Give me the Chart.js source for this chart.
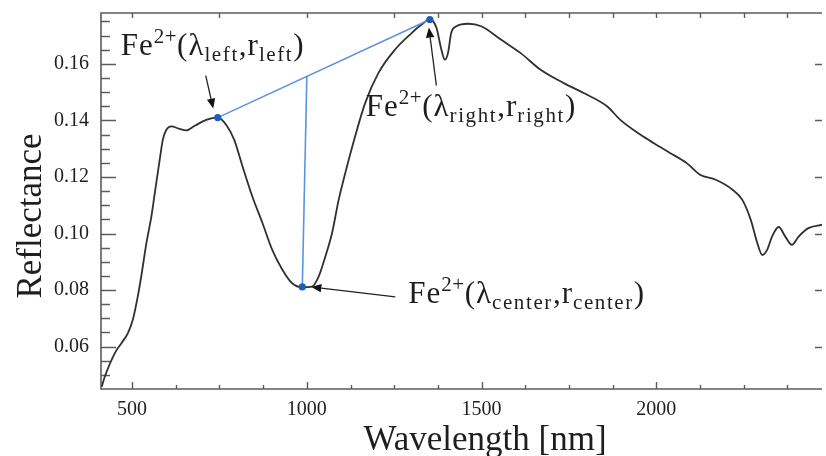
<!DOCTYPE html>
<html><head><meta charset="utf-8">
<script src="https://cdn.jsdelivr.net/npm/chart.js@4.4.1/dist/chart.umd.min.js"></script>
<style>html,body{margin:0;padding:0;background:#fff}#wrap{width:826px;height:456px;position:relative}</style>
</head><body><div id="wrap"><canvas id="c" width="826" height="456"></canvas></div>
<script>
// Spectrum
const wavelengths = [413,422,451,470,488,502,516,526,541,555,565,579,588,598,612,636,655,679,712,745,769,792,816,844,873,901,930,958,987,1015,1034,1053,1072,1091,1110,1138,1167,1205,1252,1300,1328,1352,1371,1385,1395,1404,1413,1428,1461,1499,1555,1611,1669,1735,1792,1859,1897,1954,1992,2039,2087,2125,2170,2218,2246,2270,2289,2303,2317,2331,2350,2369,2388,2407,2435,2474];
const reflectance = [0.0458,0.0494,0.0578,0.0613,0.0648,0.0695,0.0776,0.0847,0.0967,0.1059,0.1144,0.1261,0.1332,0.1367,0.1379,0.1370,0.1365,0.1381,0.1402,0.1410,0.1385,0.1332,0.1237,0.1131,0.1037,0.0942,0.0872,0.0824,0.0810,0.0812,0.0848,0.0919,0.1001,0.1119,0.1214,0.1343,0.1462,0.1568,0.1650,0.1709,0.1739,0.1757,0.1727,0.1650,0.1615,0.1639,0.1709,0.1733,0.1742,0.1733,0.1686,0.1639,0.1579,0.1532,0.1497,0.1450,0.1402,0.1350,0.1320,0.1285,0.1249,0.1208,0.1190,0.1155,0.1119,0.1049,0.0966,0.0924,0.0942,0.0989,0.1023,0.0989,0.0960,0.0989,0.1019,0.1031];

// Fe2+ band points: left shoulder, right shoulder, center
const featureNames = ['left','right','center'];
const featureWavelengths = [745, 1352, 987];
const featureReflectance = [0.1410, 0.1757, 0.0811];

// continuum (hull) line and band-depth line
const hullWavelengths = [745, 1352];
const hullReflectance = [0.1410, 0.1757];
const depthWavelengths = [987, 1000];
const depthReflectance = [0.0811, 0.1556];

// axis ticks
const xTickLabels = [500, 1000, 1500, 2000];
const yTickLabels = [0.06, 0.08, 0.10, 0.12, 0.14, 0.16];
const xTitle = 'Wavelength [nm]';
const yTitle = 'Reflectance';

const pts = (xs, ys) => xs.map((x, i) => ({x: x, y: ys[i]}));

const SERIF = '"Liberation Serif", "Times New Roman", serif';
const AXIS = '#5c5c5c';
const TEXT = '#1e1e1e';

function drawArrow(ctx, x1, y1, x2, y2) {
  const ang = Math.atan2(y2 - y1, x2 - x1);
  const hl = 10, hw = 4.2;
  ctx.save();
  ctx.strokeStyle = '#222'; ctx.fillStyle = '#111'; ctx.lineWidth = 1.3;
  ctx.beginPath(); ctx.moveTo(x1, y1);
  ctx.lineTo(x2 - hl * Math.cos(ang), y2 - hl * Math.sin(ang)); ctx.stroke();
  ctx.beginPath();
  ctx.moveTo(x2, y2);
  ctx.lineTo(x2 - hl * Math.cos(ang) - hw * Math.sin(ang), y2 - hl * Math.sin(ang) + hw * Math.cos(ang));
  ctx.lineTo(x2 - hl * Math.cos(ang) + hw * Math.sin(ang), y2 - hl * Math.sin(ang) - hw * Math.cos(ang));
  ctx.closePath(); ctx.fill();
  ctx.restore();
}

function drawFeLabel(ctx, x, y, sub) {
  const big = 31, small = 21;
  ctx.save();
  ctx.fillStyle = TEXT; ctx.textBaseline = 'alphabetic'; ctx.textAlign = 'left';
  const parts = [
    ['Fe', big, 0, 1], ['2+', small, -12, 0.5], ['(\u03bb', big, 0, 1], [sub, small, 6, 1.6],
    [',', big, 0, 1], ['r', big, 0, 1], [sub, small, 6, 1.6], [')', big, 0, 1]
  ];
  let cx = x;
  for (const [t, s, dy, ls] of parts) {
    ctx.font = s + 'px ' + SERIF;
    try { ctx.letterSpacing = ls + 'px'; } catch (e) {}
    ctx.fillText(t, cx, y + dy);
    cx += ctx.measureText(t).width;
  }
  ctx.restore();
}

const decorPlugin = {
  id: 'decor',
  beforeDatasetsDraw(chart) {
    const {ctx, chartArea: a, scales: {x, y}} = chart;
    ctx.save();
    ctx.strokeStyle = AXIS; ctx.lineWidth = 1.6;
    ctx.beginPath();
    ctx.moveTo(a.right, a.top); ctx.lineTo(a.left, a.top); ctx.lineTo(a.left, a.bottom); ctx.lineTo(a.right, a.bottom);
    ctx.stroke();
    ctx.lineWidth = 1.4;
    ctx.beginPath();
    // bottom ticks (every 125, major at labels)
    for (let v = 500; v <= x.max; v += 125) {
      const px = Math.round(x.getPixelForValue(v)) + 0.5;
      const len = (v % 500 === 0) ? 7 : 4;
      ctx.moveTo(px, a.bottom); ctx.lineTo(px, a.bottom - len);
      // top ticks
      if (v >= 1250 || v % 250 === 0) { ctx.moveTo(px, a.top); ctx.lineTo(px, a.top + 5); }
    }
    // left ticks every 0.005, major every 0.02
    for (let k = 10; k * 0.005 <= y.max + 1e-9; k++) {
      const v = k * 0.005;
      const py = Math.round(y.getPixelForValue(v)) + 0.5;
      const major = (k % 4 === 0);
      ctx.moveTo(a.left, py); ctx.lineTo(a.left + (major ? 15 : 9), py);
      if (major) { ctx.moveTo(a.right, py); ctx.lineTo(a.right - 7, py); }
    }
    ctx.stroke();
    ctx.restore();
  },
  afterDraw(chart) {
    const {ctx, scales: {x, y}} = chart;
    const P = i => ({px: x.getPixelForValue(featureWavelengths[i]), py: y.getPixelForValue(featureReflectance[i])});
    const L = P(0), R = P(1), C = P(2);
    // labels
    drawFeLabel(ctx, L.px - 97, L.py - 63, featureNames[0]);
    drawFeLabel(ctx, R.px - 64, R.py + 96, featureNames[1]);
    drawFeLabel(ctx, C.px + 106, C.py + 16, featureNames[2]);
    // arrows
    drawArrow(ctx, L.px - 12, L.py - 42, L.px - 4.5, L.py - 9);
    drawArrow(ctx, R.px + 6.5, R.py + 66, R.px - 1, R.py + 8);
    drawArrow(ctx, C.px + 93, C.py + 10, C.px + 9, C.py);
    // axis titles
    ctx.save();
    ctx.fillStyle = TEXT; ctx.font = '35px ' + SERIF; ctx.textAlign = 'center'; ctx.textBaseline = 'alphabetic';
    ctx.fillText(xTitle, 485, 450);
    ctx.translate(41, 216); ctx.rotate(-Math.PI / 2);
    ctx.fillText(yTitle, 0, 0);
    ctx.restore();
  }
};

new Chart(document.getElementById('c'), {
  type: 'scatter',
  data: {
    datasets: [
      {
        data: pts(featureWavelengths, featureReflectance),
        showLine: false, pointRadius: 3.6, pointBackgroundColor: '#1d5fb5', pointBorderWidth: 0, order: 0
      },
      {
        data: pts(wavelengths, reflectance),
        showLine: true, borderColor: '#303030', borderWidth: 1.8, pointRadius: 0,
        cubicInterpolationMode: 'monotone', order: 2
      },
      {
        data: pts(hullWavelengths, hullReflectance),
        showLine: true, borderColor: '#5c93e0', borderWidth: 1.6, pointRadius: 0, order: 1
      },
      {
        data: pts(depthWavelengths, depthReflectance),
        showLine: true, borderColor: '#5c93e0', borderWidth: 1.6, pointRadius: 0, order: 1
      }
    ]
  },
  options: {
    responsive: false, animation: false, devicePixelRatio: 1,
    layout: {padding: {top: 13, right: 0, left: 0, bottom: 0}},
    plugins: {legend: {display: false}, tooltip: {enabled: false}},
    scales: {
      x: {
        type: 'linear', min: 411, max: 2474,
        grid: {display: false, drawTicks: false}, border: {display: false},
        ticks: {font: {family: SERIF, size: 20}, color: TEXT, padding: 9, maxRotation: 0, autoSkip: false,
                callback: v => String(v)},
        afterBuildTicks: s => { s.ticks = xTickLabels.map(v => ({value: v})); },
        afterFit: s => { s.height = 67; s.paddingLeft = 0; s.paddingRight = 0; }
      },
      y: {
        type: 'linear', min: 0.045, max: 0.178,
        grid: {display: false, drawTicks: false}, border: {display: false},
        ticks: {font: {family: SERIF, size: 20}, color: TEXT, padding: 12, autoSkip: false,
                callback: v => Number(v).toFixed(2)},
        afterBuildTicks: s => { s.ticks = yTickLabels.map(v => ({value: v})); },
        afterFit: s => { s.width = 101; s.paddingTop = 0; s.paddingBottom = 0; }
      }
    }
  },
  plugins: [decorPlugin]
});
</script>
</body></html>
